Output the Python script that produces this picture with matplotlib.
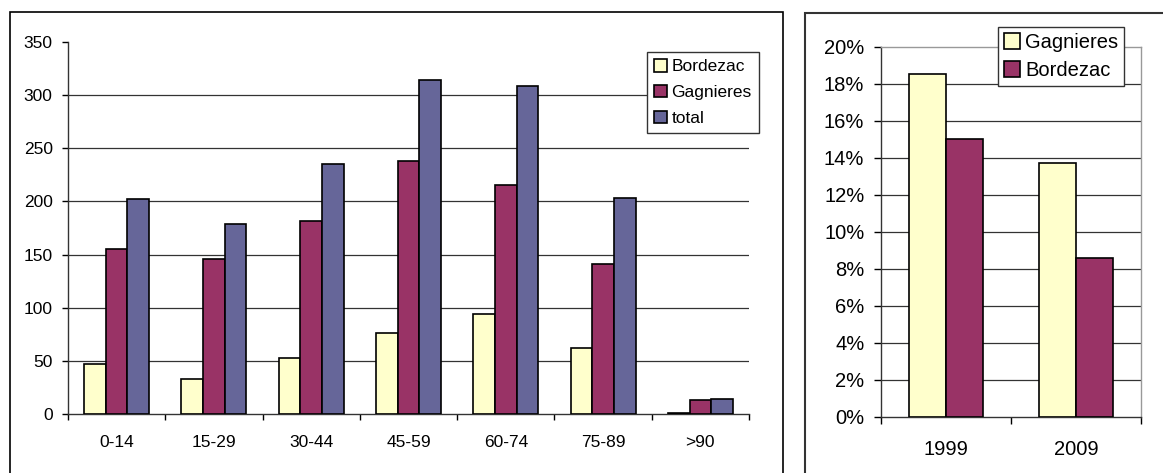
import numpy as np
import matplotlib
matplotlib.use("Agg")
import matplotlib.pyplot as plt
from matplotlib.patches import Rectangle
from matplotlib.ticker import FixedLocator, FuncFormatter

# age groups (left chart)
age_groups = ["0-14", "15-29", "30-44", "45-59", "60-74", "75-89", ">90"]
bordezac = [47, 33, 53, 76, 94, 62, 1]
gagnieres = [155, 146, 182, 238, 215, 141, 13]
total = [202, 179, 235, 314, 309, 203, 14]

# share by year (right chart)
years = ["1999", "2009"]
share_gagnieres = [18.5, 13.7]
share_bordezac = [15.0, 8.6]

YELLOW = "#FFFFCC"
MAROON = "#993366"
BLUE = "#666699"

plt.rcParams["font.family"] = ["Liberation Sans", "DejaVu Sans"]

W, H = 1163, 473
fig = plt.figure(figsize=(W / 100, H / 100), dpi=100, facecolor="white")


def fx(px):
    return px / W


def fy(px):
    return 1 - px / H


# panel frames
fig.add_artist(Rectangle((fx(10), fy(480)), fx(783 - 10), fy(12) - fy(480),
                         transform=fig.transFigure, fill=False,
                         edgecolor="black", lw=1.2))
fig.add_artist(Rectangle((fx(805), fy(480)), fx(1175 - 805), fy(13) - fy(480),
                         transform=fig.transFigure, fill=False,
                         edgecolor="#333333", lw=1.5))

# ---------------- left chart ----------------
ax1 = fig.add_axes([fx(68), fy(414), fx(749 - 68), fy(42) - fy(414)])
x = np.arange(len(age_groups))
w = 0.223
ax1.bar(x - w, bordezac, w, color=YELLOW, edgecolor="black", lw=1.2, label="Bordezac", zorder=3)
ax1.bar(x, gagnieres, w, color=MAROON, edgecolor="black", lw=1.2, label="Gagnieres", zorder=3)
ax1.bar(x + w, total, w, color=BLUE, edgecolor="black", lw=1.2, label="total", zorder=3)
ax1.set_xlim(-0.5, len(age_groups) - 0.5)
ax1.set_ylim(0, 350)
ax1.set_yticks(range(0, 351, 50))
for v in range(50, 301, 50):
    ax1.axhline(v, color="#333333", lw=0.9, zorder=1)
ax1.set_xticks(x)
ax1.set_xticklabels(age_groups)
ax1.xaxis.set_minor_locator(FixedLocator(np.arange(-0.5, len(age_groups), 1)))
ax1.tick_params(axis="x", which="major", length=0, pad=15, labelsize=12.5)
ax1.tick_params(axis="x", which="minor", length=4, width=1, direction="out")
ax1.tick_params(axis="y", length=4, width=1, pad=7, labelsize=12.5)
for s in ["top", "right"]:
    ax1.spines[s].set_visible(False)
for s in ["left", "bottom"]:
    ax1.spines[s].set_color("#333333")
    ax1.spines[s].set_linewidth(1)
leg1 = ax1.legend(loc="upper left", bbox_to_anchor=(fx(647), fy(52)),
                  bbox_transform=fig.transFigure, borderaxespad=0,
                  fancybox=False, framealpha=1, edgecolor="#333333",
                  fontsize=12.5, handlelength=0.75, handleheight=0.75,
                  handletextpad=0.25, labelspacing=0.6, borderpad=0.4)
leg1.get_frame().set_linewidth(1)

# ---------------- right chart ----------------
ax2 = fig.add_axes([fx(881), fy(416.7), fx(1141 - 881), fy(46.7) - fy(416.7)])
xr = np.arange(len(years))
wr = 0.285
ax2.bar(xr - wr / 2, share_gagnieres, wr, color=YELLOW, edgecolor="black", lw=1.2,
        label="Gagnieres", zorder=3)
ax2.bar(xr + wr / 2, share_bordezac, wr, color=MAROON, edgecolor="black", lw=1.2,
        label="Bordezac", zorder=3)
ax2.set_xlim(-0.5, len(years) - 0.5)
ax2.set_ylim(0, 20)
ax2.set_yticks(range(0, 21, 2))
ax2.yaxis.set_major_formatter(FuncFormatter(lambda v, p: "%d%%" % v))
for v in range(2, 19, 2):
    ax2.axhline(v, color="#333333", lw=0.9, zorder=1)
ax2.set_xticks(xr)
ax2.set_xticklabels(years)
ax2.xaxis.set_minor_locator(FixedLocator(np.arange(-0.5, len(years), 1)))
ax2.tick_params(axis="x", which="major", length=0, pad=17, labelsize=14.5)
ax2.tick_params(axis="x", which="minor", length=5, width=1, direction="out")
ax2.tick_params(axis="y", length=5, width=1, pad=7, labelsize=14.5)
for s in ["top", "right"]:
    ax2.spines[s].set_color("#999999")
    ax2.spines[s].set_linewidth(1)
for s in ["left", "bottom"]:
    ax2.spines[s].set_color("#333333")
    ax2.spines[s].set_linewidth(1)
leg2 = ax2.legend(loc="upper left", bbox_to_anchor=(fx(998), fy(27)),
                  bbox_transform=fig.transFigure, borderaxespad=0,
                  fancybox=False, framealpha=1, edgecolor="#333333",
                  fontsize=14.5, handlelength=0.8, handleheight=0.8,
                  handletextpad=0.25, labelspacing=0.45, borderpad=0.3)
leg2.get_frame().set_linewidth(1)

fig.savefig("out.png", dpi=100)
